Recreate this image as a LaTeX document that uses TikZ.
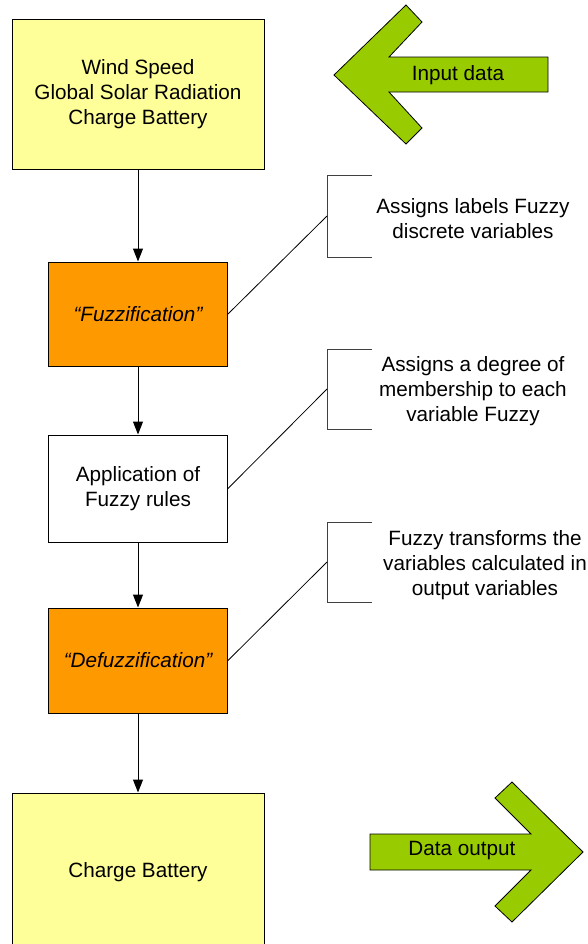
\documentclass[tikz,border=0pt]{standalone}
\usepackage{fontspec}
\setmainfont{Liberation Sans}
\usepackage{tikz}
\usetikzlibrary{arrows.meta,calc,positioning}
\definecolor{boxyellow}{HTML}{FFFF99}
\definecolor{boxorange}{HTML}{FF9900}
\definecolor{arrowgreen}{HTML}{99CC00}

\begin{document}
\begin{tikzpicture}[x=0.5pt, y=-0.5pt,
  font=\fontsize{10.35}{12.5}\selectfont,
  stage/.style={rectangle, draw, line width=0.5pt, minimum width=89.5pt,
                inner sep=0pt, align=center},
  io/.style={stage, fill=boxyellow, minimum width=126pt},
  fz/.style={stage, fill=boxorange, font=\fontsize{10.35}{12.5}\selectfont\itshape},
  arr/.style={-{Triangle[width=5pt,length=6.5pt]}, line width=0.5pt},
  note/.style={inner sep=0pt, align=center},
  bracket/.style={draw=black!75, line width=0.5pt},
  lead/.style={draw, line width=0.4pt},
  bigarrow/.style={draw, line width=0.4pt, fill=arrowgreen},
]
\useasboundingbox (0,0) rectangle (588,944);

\node[io, minimum height=75pt] (input) at (138,94) {Wind Speed\\Global Solar Radiation\\Charge Battery};
\node[fz, minimum height=52pt, below=46pt of input] (fuzz) {“Fuzzification”};
\node[stage, minimum height=53.5pt, below=34pt of fuzz] (rules) {Application of\\Fuzzy rules};
\node[fz, minimum height=52.5pt, below=32.5pt of rules] (defuzz) {“Defuzzification”};
\node[io, minimum height=79pt, below=39.5pt of defuzz] (output) {Charge Battery};

\draw[arr] (input) -- (fuzz);
\draw[arr] (fuzz) -- (rules);
\draw[arr] (rules) -- (defuzz);
\draw[arr] (defuzz) -- (output);

\node[note] (note1) at (473,219) {Assigns labels Fuzzy\\discrete variables};
\node[note] (note2) at (473,391) {Assigns a degree of\\membership to each\\variable Fuzzy};
\node[note] (note3) at (485,565) {Fuzzy transforms the\\variables calculated in\\output variables};

\coordinate (brk1) at (327,216);
\coordinate (brk2) at (327,389);
\coordinate (brk3) at (327,562);
\draw[bracket] ($(brk1)+(45,-41)$) -- ++(-45,0) -- ++(0,82) -- ++(45,0);
\draw[bracket] ($(brk2)+(45,-40)$) -- ++(-45,0) -- ++(0,80) -- ++(45,0);
\draw[bracket] ($(brk3)+(45,-40)$) -- ++(-45,0) -- ++(0,80) -- ++(45,0);
\draw[lead] (fuzz.east) -- (brk1);
\draw[lead] (rules.east) -- (brk2);
\draw[lead] (defuzz.east) -- (brk3);

\draw[bigarrow] (334,75) -- (406,5) -- (422,22) -- (389,57) -- (548,57) -- (548,92)
  -- (389,92) -- (422,128) -- (406,144) -- cycle;
\node (indata) at (458,75) {Input data};

\draw[bigarrow] (583,852) -- (512,782) -- (495,798) -- (531,834) -- (370,834) -- (370,870)
  -- (531,870) -- (495,906) -- (512,922) -- cycle;
\node (outdata) at (462,851) {Data output};
\end{tikzpicture}
\end{document}
